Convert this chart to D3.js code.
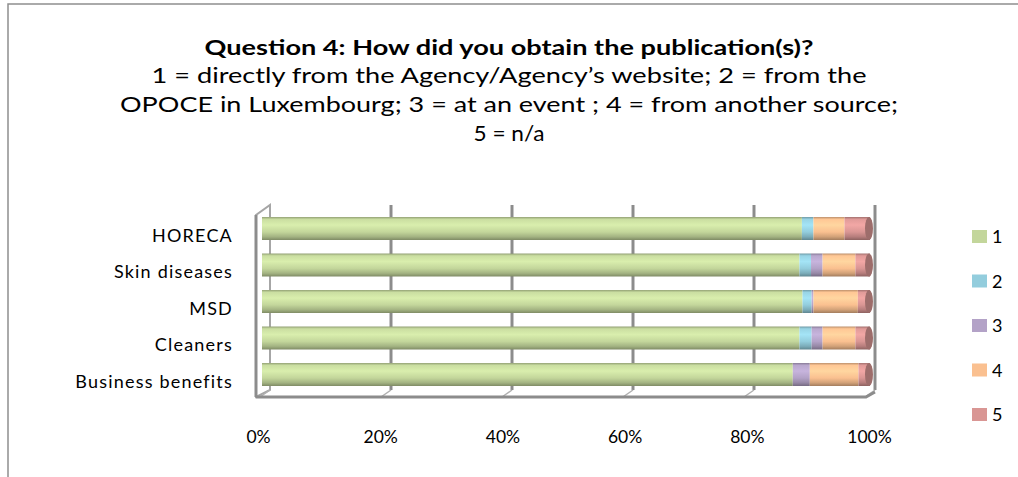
<!DOCTYPE html>
<html><head><meta charset="utf-8">
<script src="https://cdn.jsdelivr.net/npm/d3@7"></script>
<style>html,body{margin:0;padding:0;background:#fff;overflow:hidden}</style>
</head><body>
<svg id="chart" width="1018" height="477"></svg>
<script>
const categories = ["HORECA", "Skin diseases", "MSD", "Cleaners", "Business benefits"];
const seriesNames = ["1", "2", "3", "4", "5"];
const s1 = [88.8, 88.4, 88.9, 88.4, 87.3];
const s2 = [1.9, 1.9, 1.5, 2.0, 0];
const s3 = [0, 1.9, 0.3, 1.8, 2.8];
const s4 = [5.1, 5.4, 7.3, 5.4, 8.0];
const s5 = [4.2, 2.4, 2.0, 2.4, 1.9];
const tickValues = [0, 0.2, 0.4, 0.6, 0.8, 1];
const colors = ["#c3d69b", "#93cddd", "#b3a2c7", "#fac090", "#d99694"];
const titleText = "Question 4: How did you obtain the publication(s)?";
const subtitleLines = ["1 = directly from the  Agency/Agency\u2019s website; 2 = from the",
  "OPOCE in Luxembourg; 3 = at an event ; 4 = from another source;",
  "5 = n/a"];

const seriesVals = [s1, s2, s3, s4, s5];
const rows = categories.map((c, i) => {
  const r = {cat: c};
  seriesNames.forEach((s, j) => r[s] = seriesVals[j][i]);
  return r;
});
const stack = d3.stack().keys(seriesNames).offset(d3.stackOffsetExpand);
const stacked = stack(rows);

const svg = d3.select("#chart");
const FONT = "Lato, 'Open Sans', sans-serif";

// border
svg.append("rect").attr("x", 8).attr("y", 4).attr("width", 1030).attr("height", 500)
  .attr("fill", "none").attr("stroke", "#8e8e8e").attr("stroke-width", 1.5);

// title
svg.append("text").attr("x", 509).attr("y", 55).attr("text-anchor", "middle")
  .attr("font-family", FONT).attr("font-weight", "bold").attr("font-size", 21)
  .attr("textLength", 609).attr("lengthAdjust", "spacingAndGlyphs")
  .attr("fill", "#000").text(titleText);
const subW = [715, 778, 71];
const subY = d3.scalePoint().domain(d3.range(subtitleLines.length)).range([83, 141]);
svg.append("g").selectAll("text").data(subtitleLines).join("text")
  .attr("x", 509).attr("y", (d, i) => subY(i)).attr("text-anchor", "middle")
  .attr("font-family", FONT).attr("font-size", 20.5)
  .attr("textLength", (d, i) => subW[i]).attr("lengthAdjust", "spacingAndGlyphs")
  .text(d => d);

// scales
const xBack = d3.scaleLinear().domain([0, 1]).range([270, 875]);
const xFront = d3.scaleLinear().domain([0, 1]).range([256, 861]);
const xBar = d3.scaleLinear().domain([0, 1]).range([262, 870]);
const xLab = d3.scaleLinear().domain([0, 1]).range([258, 869]);
const y = d3.scaleBand().domain(categories).range([210.25, 392.75])
  .paddingInner(0.37).paddingOuter(0.185);
const backTop = 205, backBot = 390, frontTop = 215, frontBot = 397;

const walls = svg.append("g");
// left wall
walls.append("path")
  .attr("d", `M${xFront(0)},${frontBot} L${xFront(0)},${frontTop} L${xBack(0)},${backTop} L${xBack(0)},${backBot} Z`)
  .attr("fill", "#fff").attr("stroke", "#a6a6a6").attr("stroke-width", 2);
walls.append("line").attr("x1", xFront(0)).attr("x2", xFront(0)).attr("y1", frontTop).attr("y2", frontBot)
  .attr("stroke", "#8c8c8c").attr("stroke-width", 3);
// gridlines on back wall
walls.selectAll(".grid").data(tickValues.slice(1)).join("line").attr("class", "grid")
  .attr("x1", d => xBack(d)).attr("x2", d => xBack(d)).attr("y1", backTop).attr("y2", backBot)
  .attr("stroke", "#8c8c8c").attr("stroke-width", 3);
// floor lines
walls.selectAll(".floor").data(tickValues).join("line").attr("class", "floor")
  .attr("x1", d => xBack(d)).attr("x2", d => xFront(d) + 4).attr("y1", backBot).attr("y2", frontBot)
  .attr("stroke", "#b0b0b0").attr("stroke-width", 1.5);
// floor front edge
walls.append("path")
  .attr("d", `M${xFront(0)},${frontBot} L${xFront(1) + 5},${frontBot} L${xBack(1)},${backBot + 2}`)
  .attr("fill", "none").attr("stroke", "#8c8c8c").attr("stroke-width", 3);

// gradients
const defs = svg.append("defs");
colors.forEach((c, i) => {
  const g = defs.append("linearGradient").attr("id", "g" + i)
    .attr("x1", 0).attr("y1", 0).attr("x2", 0).attr("y2", 1);
  const base = d3.color(c);
  [[0, base.darker(0.8)], [0.1, base.brighter(0.1)], [0.35, base.brighter(0.3)],
   [0.65, base], [0.86, base.darker(0.5)], [1, base.darker(1.2)]]
    .forEach(([o, col]) => g.append("stop").attr("offset", o).attr("stop-color", col.formatHex()));
});

// bars
const bars = svg.append("g");
stacked.forEach((layer, li) => {
  bars.append("g").selectAll("rect").data(layer).join("rect")
    .attr("x", d => xBar(d[0]))
    .attr("y", d => y(d.data.cat))
    .attr("width", d => Math.max(0, xBar(d[1]) - xBar(d[0])))
    .attr("height", y.bandwidth())
    .attr("fill", `url(#g${li})`);
});
// right caps
const last = stacked[stacked.length - 1];
bars.append("g").selectAll("ellipse").data(last).join("ellipse")
  .attr("cx", d => xBar(d[1]) - 1)
  .attr("cy", d => y(d.data.cat) + y.bandwidth() / 2)
  .attr("rx", 4).attr("ry", y.bandwidth() / 2)
  .attr("fill", d3.color(colors[4]).darker(0.9).formatHex());

// category labels
svg.append("g").selectAll("text").data(categories).join("text")
  .attr("x", 233).attr("y", d => y(d) + y.bandwidth() / 2 + 13)
  .attr("text-anchor", "end").attr("font-family", FONT).attr("font-size", 18)
  .attr("letter-spacing", 1.2)
  .text(d => d);

// x axis labels
const axis = d3.axisBottom(xLab).tickValues(tickValues).tickFormat(d3.format(".0%")).tickSize(0);
const ax = svg.append("g").attr("transform", "translate(0,428)").call(axis);
ax.select(".domain").remove();
ax.selectAll("text").attr("font-family", FONT).attr("font-size", 17.5).attr("fill", "#000");

// legend
const ly = d3.scalePoint().domain(seriesNames).range([236, 414]);
const leg = svg.append("g").selectAll("g").data(seriesNames).join("g")
  .attr("transform", d => `translate(972,${ly(d)})`);
leg.append("rect").attr("x", 0).attr("y", -6).attr("width", 15).attr("height", 13)
  .attr("fill", (d, i) => colors[i]);
leg.append("text").attr("x", 20).attr("y", 7).attr("font-family", FONT).attr("font-size", 18).text(d => d);
</script>
</body></html>
